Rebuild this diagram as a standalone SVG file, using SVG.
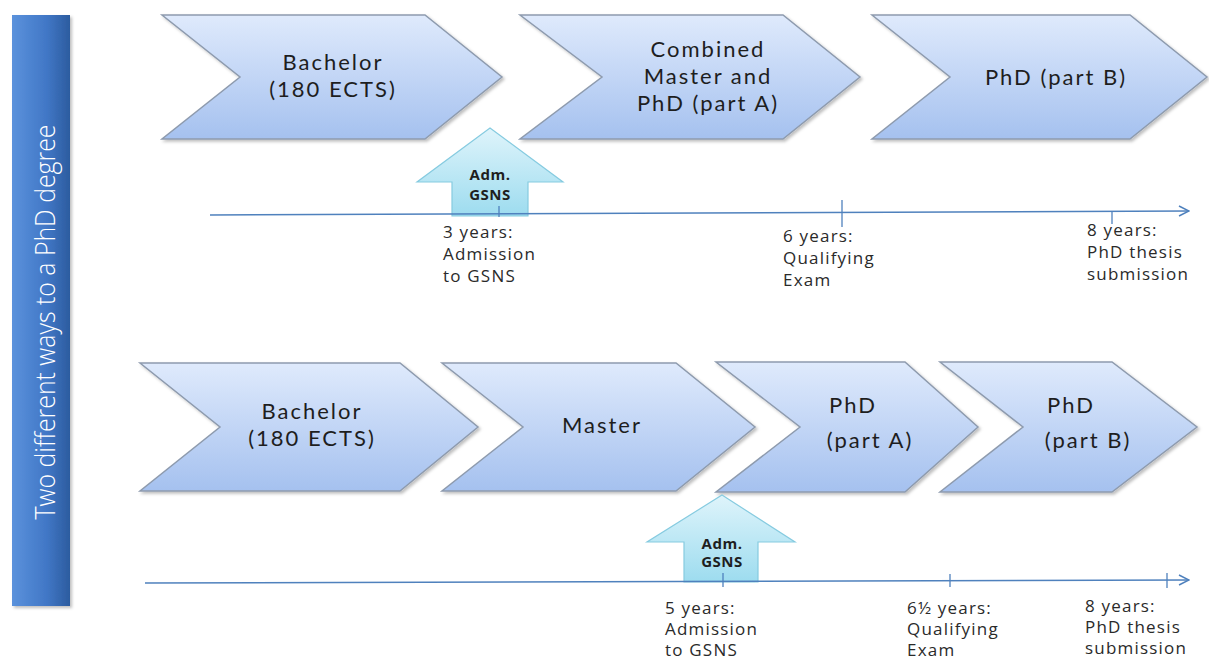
<svg xmlns="http://www.w3.org/2000/svg" width="1209" height="661" viewBox="0 0 1209 661">
  <defs>
    <linearGradient id="chev" x1="0" y1="0" x2="0" y2="1">
      <stop offset="0" stop-color="#dfeafc"/>
      <stop offset="1" stop-color="#a5c1ef"/>
    </linearGradient>
    <linearGradient id="adm" x1="0" y1="0" x2="0" y2="1">
      <stop offset="0" stop-color="#dff4fb"/>
      <stop offset="1" stop-color="#9ddcef"/>
    </linearGradient>
    <linearGradient id="bar" x1="0" y1="0" x2="1" y2="0">
      <stop offset="0" stop-color="#5b92dc"/>
      <stop offset="0.6" stop-color="#4177c6"/>
      <stop offset="1" stop-color="#2c5c9f"/>
    </linearGradient>
    <filter id="sh" x="-5%" y="-5%" width="115%" height="120%">
      <feDropShadow dx="2" dy="2" stdDeviation="1.5" flood-color="#000" flood-opacity="0.25"/>
    </filter>
    <marker id="open" viewBox="0 0 12 12" refX="11" refY="6" markerWidth="12" markerHeight="12" markerUnits="userSpaceOnUse" orient="auto">
      <path d="M1,1 L11,6 L1,11" fill="none" stroke="#4f81bd" stroke-width="1.5"/>
    </marker>
    <style>
      .chev { fill: url(#chev); stroke: #8e9bae; stroke-width: 1.5; filter: url(#sh); }
      .adm { fill: url(#adm); stroke: #86cbe0; stroke-width: 1.2; }
      .lbl { font-family: Lato, "Open Sans", sans-serif; font-size: 22px; fill: #1e1e1e; text-anchor: middle; letter-spacing: 2px; }
      .admt { font-family: "Open Sans", "DejaVu Sans", sans-serif; font-size: 15px; font-weight: bold; fill: #1e1e1e; text-anchor: middle; letter-spacing: 0.5px; }
      .tl { font-family: "Open Sans", "DejaVu Sans", sans-serif; font-size: 17px; fill: #2a2a2a; letter-spacing: 1.2px; }
      .axis { stroke: #4f81bd; stroke-width: 1.6; fill: none; }
      .tick { stroke: #4f81bd; stroke-width: 1.3; }
    </style>
  </defs>
  <rect width="1209" height="661" fill="#ffffff"/>

  <g id="side-bar">
    <rect x="12" y="15" width="58" height="591" fill="url(#bar)" filter="url(#sh)"/>
    <text transform="translate(55,322) rotate(-90)" text-anchor="middle" font-family="'Open Sans', 'DejaVu Sans', sans-serif" font-weight="300" font-size="28" fill="#ffffff" textLength="395" lengthAdjust="spacingAndGlyphs">Two different ways to a PhD degree</text>
  </g>

  <!-- Top row -->
  <g id="top-bachelor">
    <path class="chev" d="M162,15 H425 L502,77 L425,139 H162 L240,77 Z"/>
    <text class="lbl" x="333" y="70">Bachelor</text>
    <text class="lbl" x="333" y="97">(180 ECTS)</text>
  </g>
  <g id="top-combined">
    <path class="chev" d="M520,15 H783 L860,77 L783,139 H520 L602,77 Z"/>
    <text class="lbl" x="708" y="57">Combined</text>
    <text class="lbl" x="708" y="84">Master and</text>
    <text class="lbl" x="708" y="111">PhD (part A)</text>
  </g>
  <g id="top-phdb">
    <path class="chev" d="M872,15 H1130 L1207,77 L1130,139 H872 L950,77 Z"/>
    <text class="lbl" x="1056" y="85">PhD (part B)</text>
  </g>

  <!-- Bottom row -->
  <g id="bot-bachelor">
    <path class="chev" d="M140,363 H400 L478,427 L400,491 H140 L220,427 Z"/>
    <text class="lbl" x="312" y="419">Bachelor</text>
    <text class="lbl" x="312" y="446">(180 ECTS)</text>
  </g>
  <g id="bot-master">
    <path class="chev" d="M442,363 H676 L755,427 L676,491 H442 L523,427 Z"/>
    <text class="lbl" x="602" y="433">Master</text>
  </g>
  <g id="bot-phda">
    <path class="chev" d="M716,362 H905 L978,427 L905,492 H716 L800,427 Z"/>
    <text class="lbl" x="853" y="413">PhD</text>
    <text class="lbl" x="870" y="448">(part A)</text>
  </g>
  <g id="bot-phdb">
    <path class="chev" d="M940,362 H1112 L1197,427 L1112,492 H940 L1023,427 Z"/>
    <text class="lbl" x="1071" y="413">PhD</text>
    <text class="lbl" x="1088" y="448">(part B)</text>
  </g>

  <g id="top-adm">
    <path class="adm" d="M490,128 L563,182 L528,182 L528,216 L452,216 L452,182 L417,182 Z"/>
    <text class="admt" x="490" y="180">Adm.</text>
    <text class="admt" x="490" y="200">GSNS</text>
  </g>
  <g id="bot-adm">
    <path class="adm" d="M722,495 L795,542 L758,542 L758,582 L684,582 L684,542 L647,542 Z"/>
    <text class="admt" x="722" y="549" font-size="14">Adm.</text>
    <text class="admt" x="722" y="567" font-size="14">GSNS</text>
  </g>

  <g id="connectors">
    <line class="axis" x1="210" y1="215" x2="1189" y2="211" marker-end="url(#open)"/>
    <line class="tick" x1="499" y1="206" x2="499" y2="217"/>
    <line class="tick" x1="842" y1="200" x2="842" y2="227"/>
    <line class="tick" x1="1112" y1="211" x2="1112" y2="224"/>
    <line class="axis" x1="145" y1="583" x2="1189" y2="580" marker-end="url(#open)"/>
    <line class="tick" x1="723" y1="573" x2="723" y2="587"/>
    <line class="tick" x1="950" y1="574" x2="950" y2="587"/>
    <line class="tick" x1="1167" y1="573" x2="1167" y2="588"/>
  </g>

  <g id="top-labels">
    <text class="tl" x="443" y="238">3 years:</text>
    <text class="tl" x="443" y="260">Admission</text>
    <text class="tl" x="443" y="282">to GSNS</text>
    <text class="tl" x="783" y="242">6 years:</text>
    <text class="tl" x="783" y="264">Qualifying</text>
    <text class="tl" x="783" y="286">Exam</text>
    <text class="tl" x="1087" y="236">8 years:</text>
    <text class="tl" x="1087" y="258">PhD thesis</text>
    <text class="tl" x="1087" y="280">submission</text>
  </g>
  <g id="bottom-labels">
    <text class="tl" x="665" y="614">5 years:</text>
    <text class="tl" x="665" y="635">Admission</text>
    <text class="tl" x="665" y="656">to GSNS</text>
    <text class="tl" x="907" y="614">6½ years:</text>
    <text class="tl" x="907" y="635">Qualifying</text>
    <text class="tl" x="907" y="656">Exam</text>
    <text class="tl" x="1085" y="612">8 years:</text>
    <text class="tl" x="1085" y="633">PhD thesis</text>
    <text class="tl" x="1085" y="654">submission</text>
  </g>
</svg>
